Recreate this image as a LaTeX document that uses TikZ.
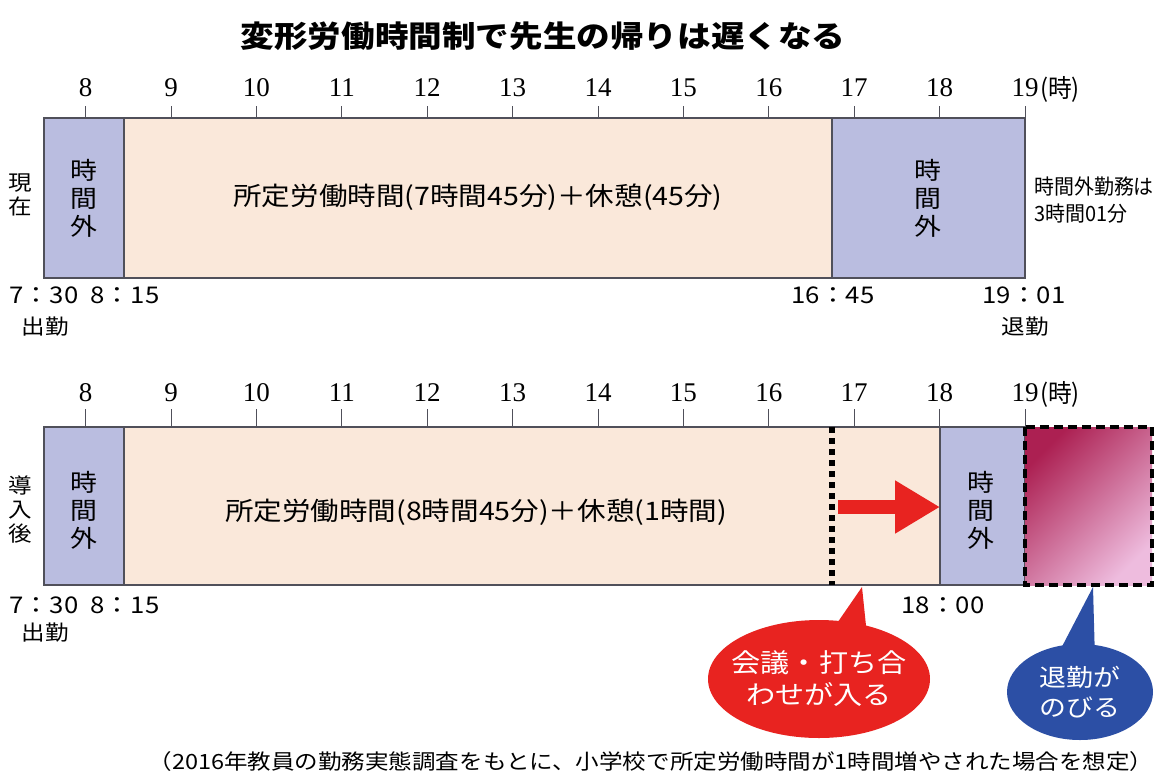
\documentclass[tikz,border=0pt]{standalone}
\usepackage{fontspec}
\setmainfont{Noto Sans CJK JP}[FakeStretch=1.12]
\newfontfamily\jpc{Noto Sans CJK JP}[FakeStretch=0.95]
\newfontfamily\numfont{Liberation Serif}
\usetikzlibrary{shapes.geometric,arrows.meta}
\definecolor{lav}{RGB}{186,189,224}
\definecolor{peach}{RGB}{250,232,218}
\definecolor{bordergray}{RGB}{80,80,90}
\definecolor{redb}{RGB}{232,35,32}
\definecolor{blueb}{RGB}{44,79,165}
\definecolor{magdark}{RGB}{172,32,82}
\definecolor{maglight}{RGB}{238,188,222}
\begin{document}
\begin{tikzpicture}[x=1pt,y=-1pt,
  box/.style={draw=bordergray, line width=1.2pt},
  tickline/.style={draw=bordergray, line width=1pt},
  hour/.style={font=\numfont\fontsize{27}{27}\selectfont, inner sep=0},
  unitlbl/.style={font=\jpc\fontsize{25}{25}\selectfont, inner sep=0, anchor=west},
  timelbl/.style={font=\fontsize{23}{23}\selectfont, inner sep=0},
  small/.style={font=\fontsize{21}{24}\selectfont, inner sep=0, align=center},
  vert/.style={font=\fontsize{24}{28}\selectfont, inner sep=0, align=center},
  maintxt/.style={font=\fontsize{25.5}{28}\selectfont, inner sep=0},
  bubtxt/.style={text=white, align=center, inner sep=0},
]
\useasboundingbox (0,0) rectangle (1157,780);
\fill[white] (0,0) rectangle (1157,780);

\node[font=\bfseries\fontsize{30}{30}\selectfont, inner sep=0] (title) at (543,36) {変形労働時間制で先生の帰りは遅くなる};

% ---------- top bar ----------
\foreach \h in {8,...,19} {
  \pgfmathsetmacro\hx{85.6+(\h-8)*85.4}
  \draw[tickline] (\hx,106) -- (\hx,118);
  \node[hour] (ta\h) at (\hx,88) {\h};
}
\node[unitlbl] (unitA) at (1040,89) {(時)};

\draw[box, fill=lav] (44,118) rectangle (124,278);
\draw[box, fill=peach] (124,118) rectangle (832,278);
\draw[box, fill=lav] (832,118) rectangle (1025,278);

\node[small] (nowlbl) at (20,195) {現\\在};
\node[vert] (offA1) at (84,198) {時\\間\\外};
\node[vert] (offA2) at (928,198) {時\\間\\外};
\node[maintxt] (mainA) at (478,197) {所定労働時間(7時間45分)＋休憩(45分)};
\node[font=\jpc\fontsize{21}{27}\selectfont, inner sep=0, align=left, anchor=west] (otA) at (1034,200) {時間外勤務は\\3時間01分};

\node[timelbl] (tA1) at (44,295) {7：30};
\node[timelbl] (tA2) at (125,295) {8：15};
\node[timelbl] (tA3) at (833,295) {16：45};
\node[timelbl] (tA4) at (1024,295) {19：01};
\node[small] (inA) at (45,327) {出勤};
\node[small] (outA) at (1025,327) {退勤};

% ---------- bottom bar ----------
\foreach \h in {8,...,19} {
  \pgfmathsetmacro\hx{85.6+(\h-8)*85.4}
  \draw[tickline] (\hx,409) -- (\hx,427);
  \node[hour] (tb\h) at (\hx,393) {\h};
}
\node[unitlbl] (unitB) at (1040,394) {(時)};

\draw[box, fill=lav] (44,427) rectangle (124,585);
\draw[box, fill=peach] (124,427) rectangle (940,585);
\draw[box, fill=lav] (940,427) rectangle (1025,585);
\shade[top color=magdark, bottom color=maglight, shading angle=45] (1025,427) rectangle (1152,585);
\draw[black, line width=4.5pt, dash pattern=on 9pt off 5pt] (1025,427) rectangle (1152,585);
\draw[black, line width=6pt, dash pattern=on 6pt off 5pt] (832,427) -- (832,585);

\node[small] (afterlbl) at (20,510) {導\\入\\後};
\node[vert] (offB1) at (84,510) {時\\間\\外};
\node[vert] (offB2) at (981,510) {時\\間\\外};
\node[maintxt] (mainB) at (476,512) {所定労働時間(8時間45分)＋休憩(1時間)};

\coordinate (aS) at (838,507);
\coordinate (aE) at (940,507);
\draw[redb, line width=14pt, -{Triangle[length=45pt,width=50pt]}] (aS) -- (aE);

\node[timelbl] (tB1) at (44,605) {7：30};
\node[timelbl] (tB2) at (125,605) {8：15};
\node[timelbl] (tB3) at (943,605) {18：00};
\node[small] (inB) at (45,633) {出勤};

% ---------- bubbles ----------
\coordinate (tipR) at (862,587);
\coordinate (bR1) at (822,645);
\coordinate (bR2) at (868,645);
\fill[redb] (tipR) -- (bR1) -- (bR2) -- cycle;
\node[ellipse, fill=redb, minimum width=222pt, minimum height=118pt, inner sep=0] (bubR) at (819,679) {};
\node[bubtxt, font=\fontsize{26}{32}\selectfont] (txtR) at (bubR) {会議・打ち合\\わせが入る};

\coordinate (tipB) at (1093,587);
\coordinate (bB1) at (1055,660);
\coordinate (bB2) at (1095,660);
\fill[blueb] (tipB) -- (bB1) -- (bB2) -- cycle;
\node[ellipse, fill=blueb, minimum width=146pt, minimum height=96pt, inner sep=0] (bubB) at (1080,692) {};
\node[bubtxt, font=\fontsize{24}{30}\selectfont] (txtB) at (bubB) {退勤が\\のびる};

\node[font=\fontsize{21}{21}\selectfont, inner sep=0] (foot) at (651,762) {（2016年教員の勤務実態調査をもとに、小学校で所定労働時間が1時間増やされた場合を想定）};
\end{tikzpicture}
\end{document}
